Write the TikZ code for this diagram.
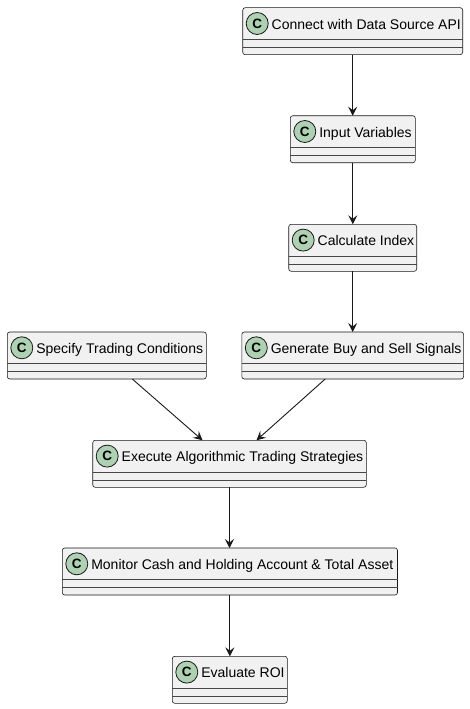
\documentclass[tikz,border=0pt]{standalone}
\usepackage{fontspec}
\setmainfont{Liberation Sans}
\usetikzlibrary{arrows.meta}
\definecolor{boxfill}{HTML}{F1F1F1}
\definecolor{boxline}{HTML}{181818}
\definecolor{iconfill}{HTML}{ADD1B2}
\tikzset{
  classbox/.style={draw=boxline, line width=0.6pt, fill=boxfill, rounded corners=2.5pt, inner sep=0pt, outer sep=0pt},
  sepline/.style={draw=boxline!80, line width=0.6pt},
  cicon/.style={circle, draw=boxline, line width=0.8pt, fill=iconfill, minimum size=22pt, inner sep=0pt, font=\fontsize{13.5}{13.5}\selectfont\bfseries},
  lbl/.style={inner sep=0pt, anchor=base west, font=\fontsize{14}{16}\selectfont},
  flow/.style={draw=boxline, line width=0.9pt, -{Stealth[length=9pt, width=9pt, inset=3.5pt]}}
}
\newcommand{\umlclass}[6]{%
  \node[classbox, minimum width={#4pt-#2pt}, minimum height={#5pt-#3pt}] (#1) at ({(#2+#4)/2},{(#3+#5)/2}) {};
  \draw[sepline] ([yshift=-31.5pt]#1.north west) -- ([yshift=-31.5pt]#1.north east);
  \draw[sepline] ([yshift=-39.5pt]#1.north west) -- ([yshift=-39.5pt]#1.north east);
  \node[cicon] (#1-c) at ([xshift=14.5pt,yshift=-15.8pt]#1.north west) {C};
  \node[lbl] (#1-t) at ([xshift=28.8pt,yshift=-21.4pt]#1.north west) {#6};
}
\begin{document}
\begin{tikzpicture}[x=1pt, y=-1pt]
\useasboundingbox (0,0) rectangle (469,709);
\umlclass{api}{242.7}{7.7}{462.7}{54.7}{Connect with Data Source API}
\umlclass{inp}{290.3}{115.7}{415.3}{162.7}{Input Variables}
\umlclass{calc}{288.7}{224.3}{416.7}{271.3}{Calculate Index}
\umlclass{spec}{7.3}{332}{206.3}{379}{Specify Trading Conditions}
\umlclass{gen}{241.8}{332}{463.6}{379}{Generate Buy and Sell Signals}
\umlclass{exe}{92.7}{440.3}{366.3}{487.3}{Execute Algorithmic Trading Strategies}
\umlclass{mon}{62.3}{548}{397.5}{595}{Monitor Cash and Holding Account \& Total Asset}
\umlclass{roi}{172.3}{656.3}{287.3}{703.3}{Evaluate ROI}
\draw[flow] (api.south) -- (api.south |- inp.north);
\draw[flow] (inp.south) -- (inp.south |- calc.north);
\draw[flow] (calc.south) -- (calc.south |- gen.north);
\draw[flow] ([xshift=25.5pt]spec.south) -- ([xshift=-27pt]exe.north);
\draw[flow] ([xshift=-27.5pt]gen.south) -- ([xshift=27pt]exe.north);
\draw[flow] (exe.south) -- (exe.south |- mon.north);
\draw[flow] (mon.south) -- (mon.south |- roi.north);
\end{tikzpicture}
\end{document}
